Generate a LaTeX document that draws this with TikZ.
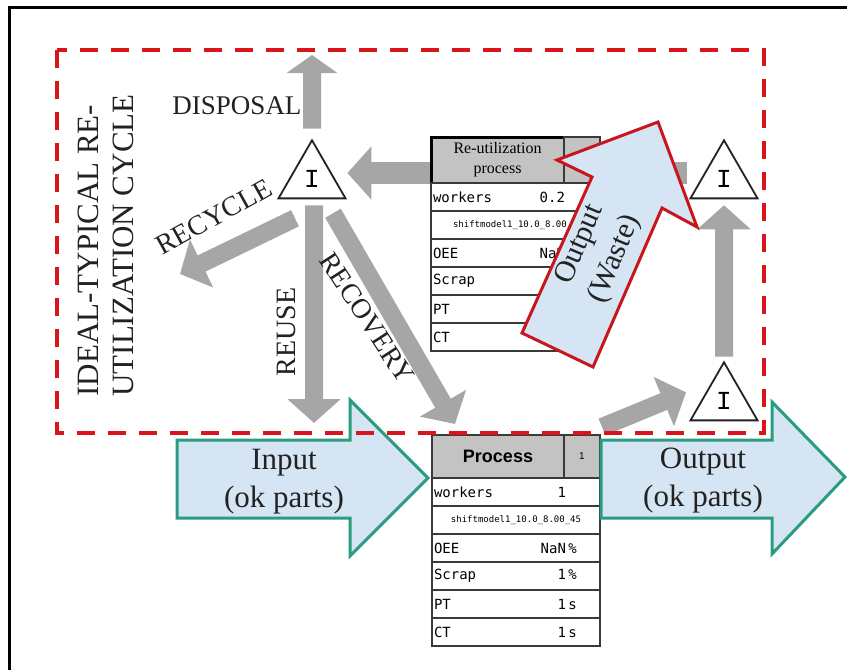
\documentclass[tikz,border=0pt]{standalone}
\usepackage{fontspec}
\setmainfont{Liberation Serif}
\newfontfamily\rcmono{DejaVu Sans Mono}
\newfontfamily\rcsym{Liberation Mono}
\newfontfamily\rcsans{Liberation Sans}
\definecolor{rcInk}{HTML}{222222}
\definecolor{rcFlow}{HTML}{A6A6A6}
\definecolor{rcFill}{HTML}{D6E5F3}
\definecolor{rcTeal}{HTML}{2A9C80}
\definecolor{rcRed}{HTML}{C8161F}
\definecolor{rcDash}{HTML}{D9141B}
\definecolor{rcHead}{HTML}{C3C3C3}
\definecolor{rcLine}{HTML}{3A3A3A}
\usetikzlibrary{positioning,shapes.geometric,arrows.meta,backgrounds}

\newcommand{\rowtxt}[3]{\makebox[56pt][l]{#1}\makebox[10pt][r]{#2}\makebox[16pt][l]{\,#3}}

\begin{document}
\begin{tikzpicture}[x=0.5pt,y=-0.5pt,
                    stock/.style={regular polygon,regular polygon sides=3,draw=rcInk,line width=0.9pt,
                                  fill=white,minimum size=38.7pt,inner sep=0pt,
                                  font=\rcsym\fontsize{13}{13}\selectfont},
                    flow/.style={draw=rcFlow,line width=9pt,-{Triangle[width=26pt,length=12pt]}},
                    bigarrow/.style={fill=rcFill,draw=rcTeal,line width=1.5pt,line join=miter},
                    bigtxt/.style={align=center,text=rcInk,inner sep=0pt,font=\fontsize{15.5}{19}\selectfont},
                    cyclab/.style={text=rcInk,inner sep=0pt,font=\fontsize{14}{14}\selectfont},
                    headbox/.style={draw=rcLine,line width=0.7pt,fill=rcHead,outer sep=0pt,
                                    inner sep=0pt,minimum height=21.5pt},
                    rowbox/.style={draw=rcLine,line width=0.7pt,fill=white,outer sep=0pt,inner sep=0pt,
                                   minimum width=84pt,minimum height=14pt,
                                   font=\rcmono\fontsize{7}{8}\selectfont}]
  \useasboundingbox (0,0) rectangle (847,670);

  % inventories
  \node[stock] (t1) at (312,179) {I};
  \node[stock] (t2) at (724,179) {I};
  \node[stock] (t3) at (724,401) {I};

  % re-utilization process
  \node[headbox,draw=black,line width=1.5pt,minimum width=66.5pt,minimum height=23pt,anchor=north west,
        align=center,font=\fontsize{8}{10}\selectfont] (reu) at (431,137) {Re-utilization\\process};
  \node[headbox,minimum width=18pt,minimum height=23pt,right=0pt of reu] (reu id) {};
  \node[rowbox,anchor=north west] (reu w) at (reu.south west) {\rowtxt{workers}{0.2}{}};
  \node[rowbox,below=0pt of reu w,font=\rcmono\fontsize{4.5}{5}\selectfont] (reu s)
       {\makebox[80pt][l]{\hspace{9pt}shiftmodel1\_10.0\_8.00}};
  \node[rowbox,below=0pt of reu s] (reu o) {\rowtxt{OEE}{NaN}{}};
  \node[rowbox,below=0pt of reu o] (reu c) {\rowtxt{Scrap}{}{}};
  \node[rowbox,below=0pt of reu c] (reu p) {\rowtxt{PT}{}{}};
  \node[rowbox,below=0pt of reu p] (reu t) {\rowtxt{CT}{}{}};

  % process
  \node[headbox,minimum width=66pt,anchor=north west,
        font=\rcsans\bfseries\fontsize{9}{10}\selectfont] (proc) at (432,435) {Process};
  \node[headbox,minimum width=18pt,right=0pt of proc,font=\rcsans\fontsize{5}{6}\selectfont] (proc id) {1};
  \node[rowbox,anchor=north west] (proc w) at (proc.south west) {\rowtxt{workers}{1}{}};
  \node[rowbox,below=0pt of proc w,font=\rcmono\fontsize{4.5}{5}\selectfont] (proc s)
       {shiftmodel1\_10.0\_8.00\_45};
  \node[rowbox,below=0pt of proc s] (proc o) {\rowtxt{OEE}{NaN}{\%}};
  \node[rowbox,below=0pt of proc o] (proc c) {\rowtxt{Scrap}{1}{\%}};
  \node[rowbox,below=0pt of proc c] (proc p) {\rowtxt{PT}{1}{s}};
  \node[rowbox,below=0pt of proc p] (proc t) {\rowtxt{CT}{1}{s}};

  % flows between the inventories
  \begin{pgfonlayer}{background}
    \draw[line width=1.5pt] (9,7) rectangle (900,720);
    \coordinate (disp) at (312,55);
    \coordinate (rcy) at (180,274);
    \coordinate (reuse) at (314,423);
    \coordinate (recov) at (455,424);
    \draw[flow,-{Triangle[width=25pt,length=9pt]}] ([yshift=5pt]t1.north) -- (disp);
    \draw[flow,line width=11pt] ([xshift=-7pt,yshift=3pt]t2.west) -- ([xshift=6pt,yshift=3pt]t1.east);
    \draw[flow] ([xshift=-8.5pt,yshift=-9.5pt]t1.south) -- (rcy);
    \draw[flow] ([xshift=1pt,yshift=-3pt]t1.south) -- (reuse);
    \draw[flow] ([xshift=10.5pt,yshift=-7pt]t1.south) -- (recov);
    \draw[flow] ([xshift=1pt,yshift=4pt]proc id.north east) -- ([xshift=-7.3pt,yshift=4.3pt]t3.west);
    \draw[flow] ([yshift=2pt]t3.north) -- ([yshift=-3pt]t2.south);
  \end{pgfonlayer}

  \node[cyclab,font=\fontsize{13.5}{14}\selectfont] (disposal) at (237,106) {DISPOSAL};
  \node[cyclab,rotate=29] (recycle) at (214,217) {RECYCLE};
  \node[cyclab,rotate=90] (reuse lbl) at (286,332) {REUSE};
  \node[cyclab,rotate=-57] (recovery) at (367,318) {RECOVERY};
  \node[cyclab,rotate=90,anchor=west,align=left,font=\fontsize{15.5}{17.5}\selectfont] (cycle)
       at (106,397) {IDEAL-TYPICAL RE-\\UTILIZATION CYCLE};

  % input, output and waste
  \draw[bigarrow] (177,440) -- (350,440) -- (350,400) -- (428,478) -- (350,556) -- (350,518) -- (177,518) -- cycle;
  \node[bigtxt] (input) at (284,482) {Input\\(ok parts)};
  \draw[bigarrow] (601,440) -- (772,440) -- (772,402) -- (845,477) -- (772,554) -- (772,518) -- (601,518) -- cycle;
  \node[bigtxt] (output) at (703,481) {Output\\(ok parts)};
  \draw[bigarrow,draw=rcRed] (522,333) -- (592,177) -- (557,160) -- (658,122) -- (697,227) -- (662,208) -- (593,367) -- cycle;
  \node[bigtxt,rotate=67,font=\fontsize{15}{19}\selectfont] (waste) at (598,252) {Output\\(Waste)};

  \draw[rcDash,line width=2pt,dash pattern=on 9pt off 6.5pt] (57,50) rectangle (764,433);
\end{tikzpicture}
\end{document}
